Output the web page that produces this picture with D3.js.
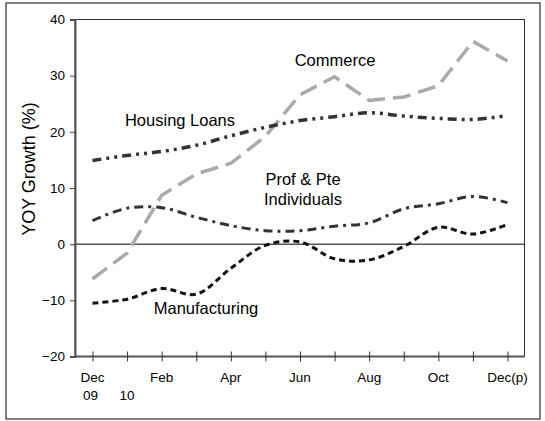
<!DOCTYPE html>
<html>
<head>
<meta charset="utf-8">
<script src="https://cdn.jsdelivr.net/npm/d3@7"></script>
<style>
  html, body { margin: 0; padding: 0; background: #fff; }
  svg { display: block; font-family: "Liberation Sans", Arial, sans-serif; }
</style>
</head>
<body>
<div id="chart"></div>
<script>
// Months Dec 09 .. Dec 10 (p)
const months = ['Dec 09', 'Jan', 'Feb', 'Mar', 'Apr', 'May', 'Jun', 'Jul', 'Aug', 'Sep', 'Oct', 'Nov', 'Dec(p)'];
const tickLabels = ['Dec', '', 'Feb', '', 'Apr', '', 'Jun', '', 'Aug', '', 'Oct', '', 'Dec(p)'];
const yearLabels = ['09', '10'];
const yTicks = [-20, -10, 0, 10, 20, 30, 40];

const commerce = [-6.2, -1.6, 8.7, 12.5, 14.4, 19.2, 26.6, 29.8, 25.6, 26.2, 28.2, 36.1, 32.6];
const housingLoans = [14.9, 15.8, 16.5, 17.6, 19.3, 20.8, 22.0, 22.7, 23.4, 22.8, 22.4, 22.2, 22.9];
const profPte = [4.2, 6.4, 6.5, 4.8, 3.3, 2.4, 2.4, 3.2, 3.8, 6.3, 7.2, 8.5, 7.4];
const manufacturing = [-10.5, -9.8, -7.9, -8.9, -4.3, -0.2, 0.4, -2.6, -2.8, -0.4, 3.0, 1.8, 3.5];

const width = 545, height = 421;
const plot = { left: 75, right: 524.5, top: 19.5, bottom: 356.5 };

const svg = d3.select('#chart').append('svg')
  .attr('width', width)
  .attr('height', height);

// outer frame
svg.append('rect')
  .attr('x', 6).attr('y', 3)
  .attr('width', 534).attr('height', 416)
  .attr('fill', 'none')
  .attr('stroke', '#555')
  .attr('stroke-width', 1.5);

const x = d3.scalePoint()
  .domain(d3.range(months.length))
  .range([92.5, 507.5]);

const y = d3.scaleLinear()
  .domain([-20, 40])
  .range([plot.bottom, plot.top]);

// plot box (top/right thin)
svg.append('rect')
  .attr('x', plot.left).attr('y', plot.top)
  .attr('width', plot.right - plot.left).attr('height', plot.bottom - plot.top)
  .attr('fill', 'none')
  .attr('stroke', '#333')
  .attr('stroke-width', 1);

// zero line
svg.append('line')
  .attr('x1', plot.left).attr('x2', plot.right)
  .attr('y1', y(0)).attr('y2', y(0))
  .attr('stroke', '#000')
  .attr('stroke-width', 1);

// y axis
const yAxis = svg.append('g')
  .attr('transform', `translate(${plot.left},0)`)
  .call(d3.axisLeft(y).tickValues(yTicks).tickSize(5).tickPadding(5).tickFormat(d3.format('d')));
yAxis.select('.domain').attr('stroke', '#555').attr('stroke-width', 2);
yAxis.selectAll('.tick line').attr('stroke', '#444');
yAxis.selectAll('.tick text')
  .attr('font-size', 13.5)
  .attr('fill', '#000')
  .attr('font-family', '"Liberation Sans", Arial, sans-serif');

// x axis: ticks crossing the axis
const xAxis = svg.append('g')
  .attr('transform', `translate(0,${plot.bottom})`)
  .call(d3.axisBottom(x).tickSize(5).tickFormat(''));
xAxis.select('.domain').attr('d', `M${plot.left},0H${plot.right}`).attr('stroke', '#555').attr('stroke-width', 2);
xAxis.selectAll('.tick line').attr('y1', -5).attr('y2', 5).attr('stroke', '#333');

svg.append('g').selectAll('text')
  .data(tickLabels)
  .join('text')
  .attr('x', (d, i) => x(i))
  .attr('y', 382)
  .attr('text-anchor', 'middle')
  .attr('font-size', 13.5)
  .text((d) => d);

svg.append('g').selectAll('text')
  .data(yearLabels)
  .join('text')
  .attr('x', (d, i) => x(i) - (i === 0 ? 2 : 0))
  .attr('y', 400)
  .attr('text-anchor', 'middle')
  .attr('font-size', 13.5)
  .text((d) => d);

// y title
svg.append('text')
  .attr('transform', 'translate(35,169) rotate(-90)')
  .attr('text-anchor', 'middle')
  .attr('font-size', 18)
  .text('YOY Growth (%)');

const smooth = d3.line().x((d, i) => x(i)).y((d) => y(d)).curve(d3.curveCatmullRom.alpha(0.5));
const straight = d3.line().x((d, i) => x(i)).y((d) => y(d));

const series = [
  { name: 'Commerce', values: commerce, line: straight, color: '#aaa', width: 3.5, dash: '18,8' },
  { name: 'Housing Loans', values: housingLoans, line: smooth, color: '#333', width: 3.5, dash: '9,5,3,5,3,5' },
  { name: 'Prof & Pte', values: profPte, line: smooth, color: '#333', width: 3, dash: '9,5,3,5' },
  { name: 'Manufacturing', values: manufacturing, line: smooth, color: '#111', width: 3, dash: '6,4' }
];

svg.append('g').selectAll('path')
  .data(series)
  .join('path')
  .attr('d', (d) => d.line(d.values))
  .attr('fill', 'none')
  .attr('stroke', (d) => d.color)
  .attr('stroke-width', (d) => d.width)
  .attr('stroke-dasharray', (d) => d.dash);

// series labels
const labels = [
  { text: 'Commerce', x: 335, y: 66 },
  { text: 'Housing Loans', x: 180, y: 126 },
  { text: 'Prof & Pte', x: 303, y: 185 },
  { text: 'Individuals', x: 303, y: 205 },
  { text: 'Manufacturing', x: 206, y: 314 }
];
svg.append('g').selectAll('text')
  .data(labels)
  .join('text')
  .attr('x', (d) => d.x)
  .attr('y', (d) => d.y)
  .attr('text-anchor', 'middle')
  .attr('font-size', 16.5)
  .text((d) => d.text);
</script>
</body>
</html>
